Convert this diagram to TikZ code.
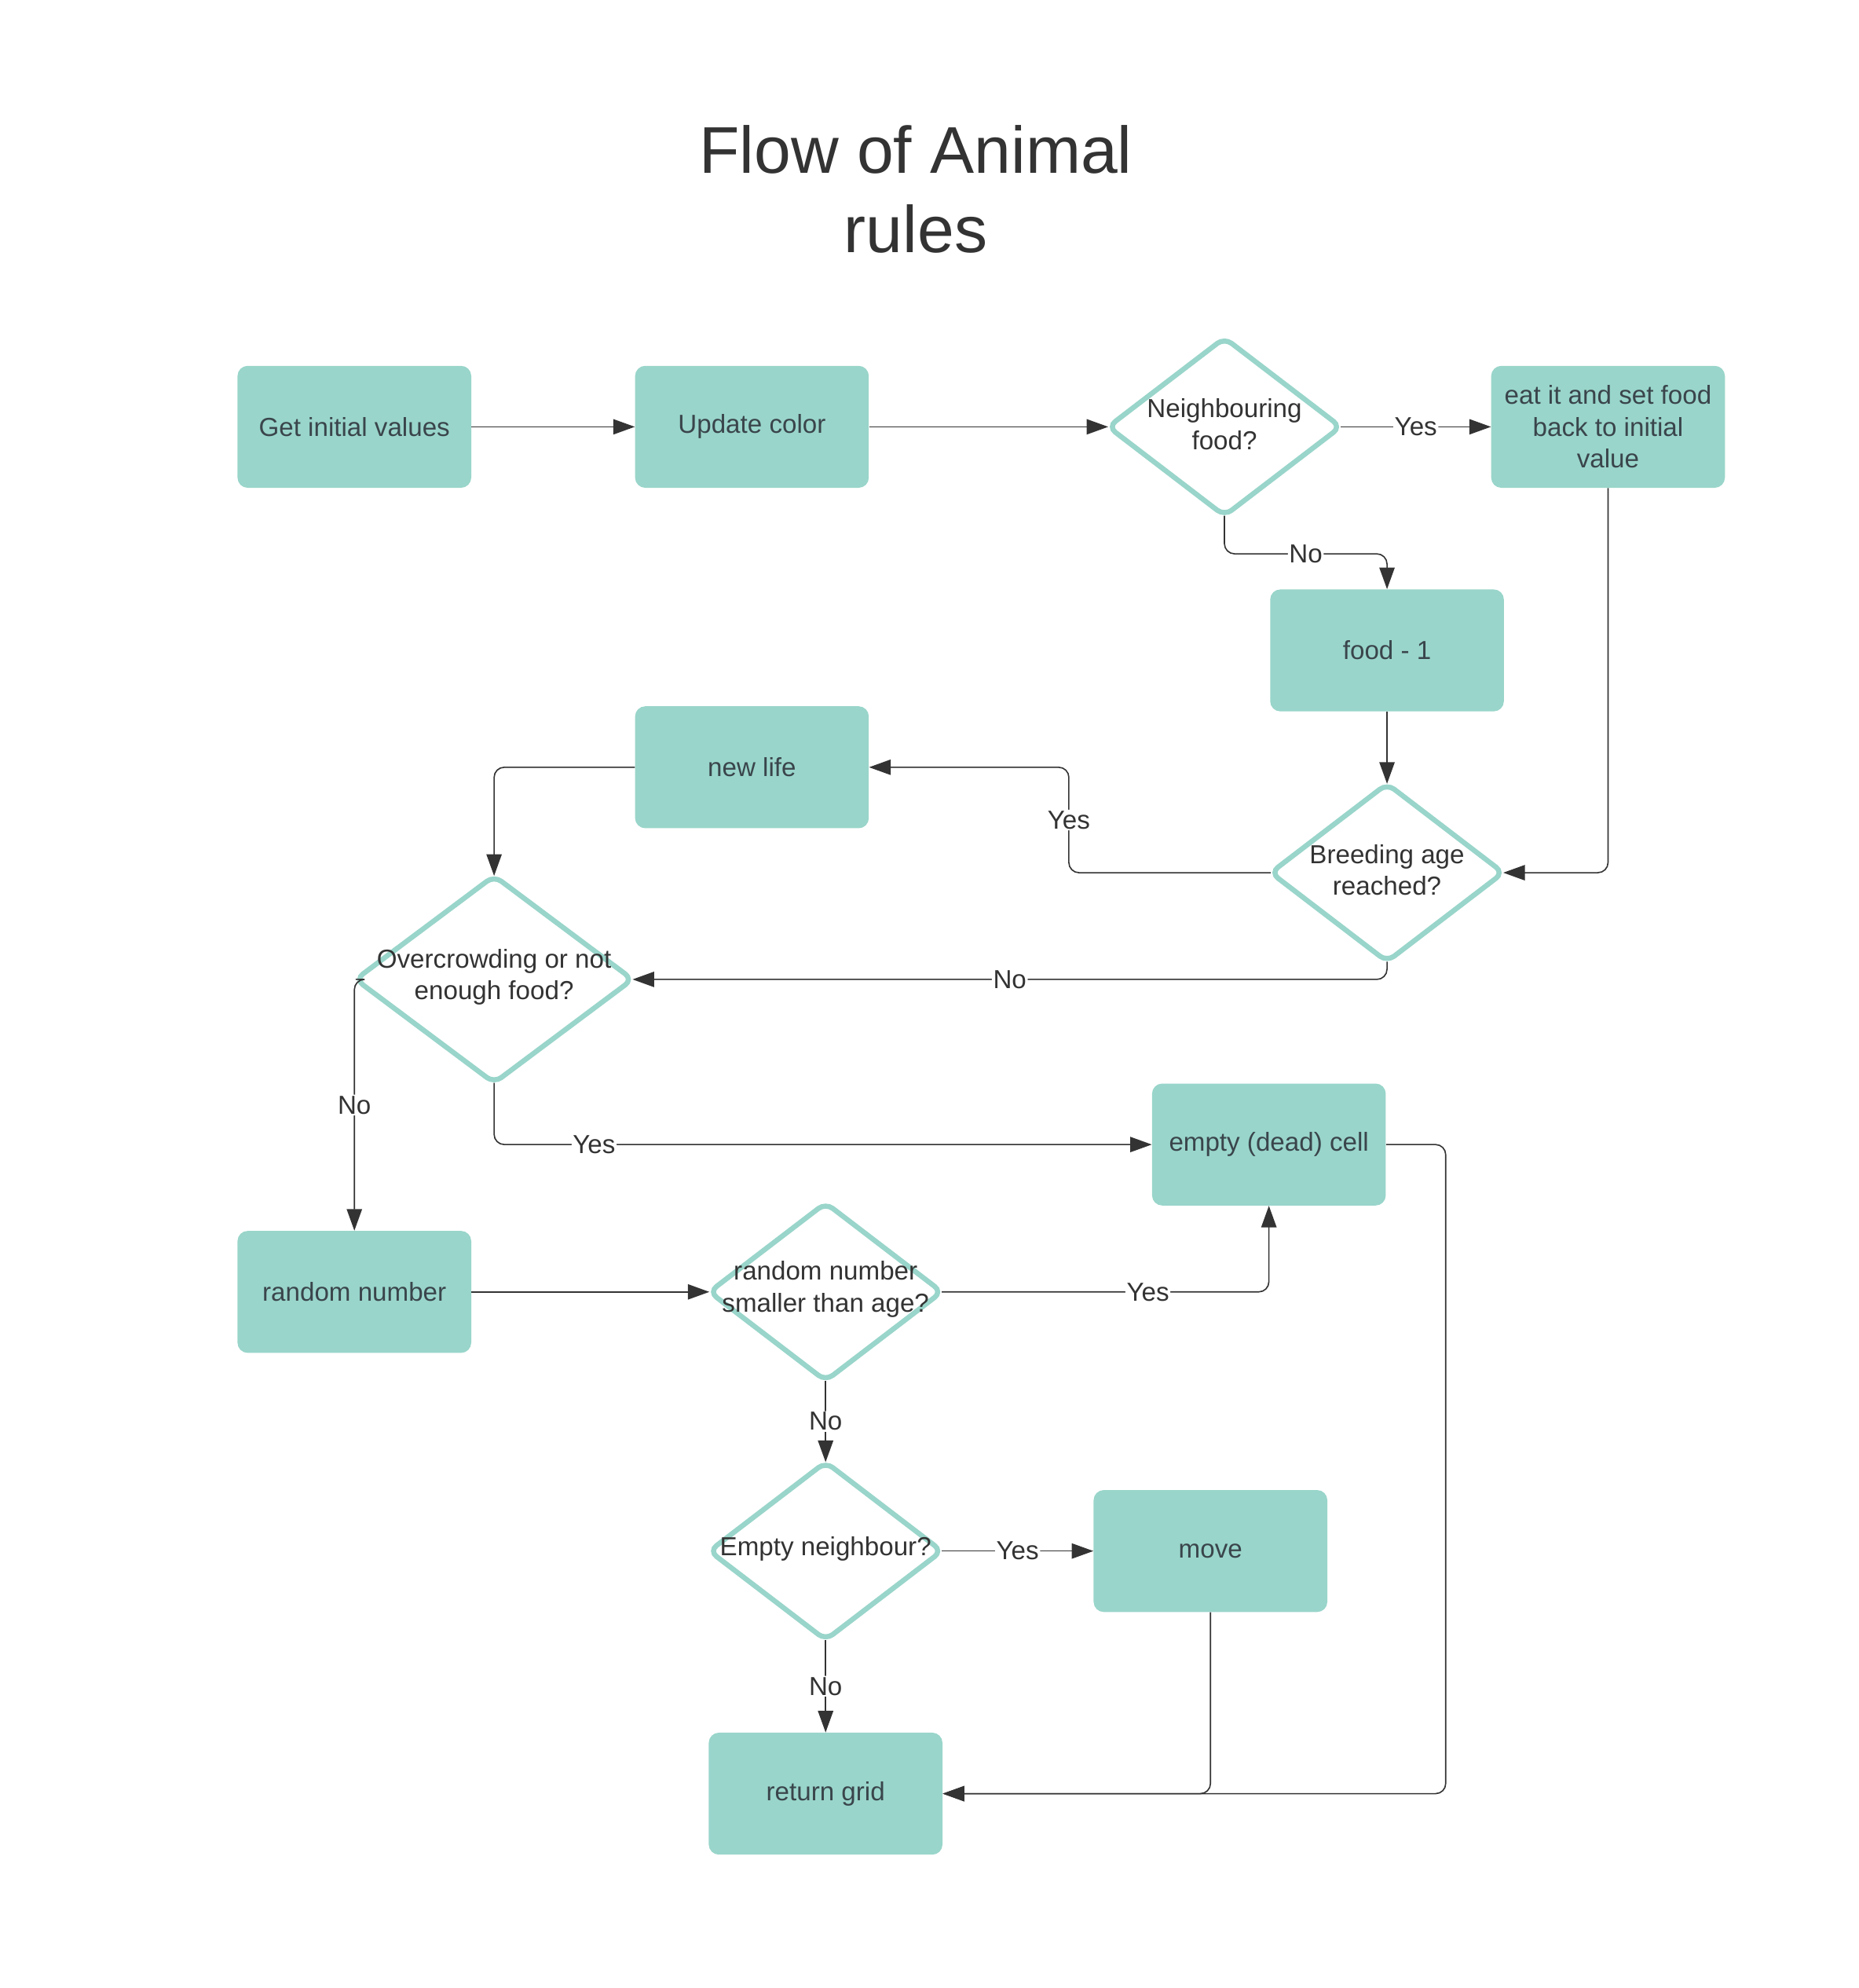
\documentclass[tikz,border=0pt]{standalone}
\usepackage{fontspec}
\setmainfont{Liberation Sans}
\usepackage{xcolor}
\usetikzlibrary{shapes.geometric, arrows.meta}

\definecolor{boxfill}{HTML}{99D5CA}
\definecolor{boxtext}{HTML}{3A454B}
\definecolor{linec}{HTML}{333333}

\tikzset{
	box/.style={rectangle, rounded corners=8pt, fill=boxfill, text=boxtext,
		minimum width=184pt, minimum height=96pt, align=center,
		font=\fontsize{20.5}{25}\selectfont},
	decision/.style={diamond, draw=boxfill, line width=4pt, rounded corners=7pt,
		fill=white, inner sep=0pt, outer sep=0pt, minimum width=183pt, minimum height=140pt},
	dtext/.style={text=linec, align=center, yshift=2pt, font=\fontsize{20.5}{25}\selectfont},
	flow/.style={draw=linec, line width=1pt, rounded corners=8pt,
		-{Triangle[length=17pt, width=12pt]}},
	lbl/.style={fill=white, inner sep=1pt, text=linec,
		font=\fontsize{20.5}{25}\selectfont}
}

\begin{document}
\begin{tikzpicture}[x=1pt, y=-1pt]
		\useasboundingbox (0,0) rectangle (1463,1565);
		
		\node [text=linec, align=center, font=\fontsize{52}{62}\selectfont] (title) at (721,149) {Flow of Animal\\rules};
		
		% boxes
		\node [box] (init) at (279,336) {Get initial values};
		\node [box] (upd) at (592,336) {Update color};
		\node [box] (eat) at (1266,336) {eat it and set food\\back to initial\\value};
		\node [box] (food) at (1092,512) {food - 1};
		\node [box] (newlife) at (592,604) {new life};
		\node [box] (dead) at (999,901) {empty (dead) cell};
		\node [box] (randnum) at (279,1017) {random number};
		\node [box] (move) at (953,1221) {move};
		\node [box] (ret) at (650,1412) {return grid};
		
		% decisions
		\node [decision] (nfood) at (964,336) {};
			\node [dtext] (nfoodtxt) at (nfood) {Neighbouring\\food?};
		\node [decision] (breed) at (1092,687) {};
			\node [dtext] (breedtxt) at (breed) {Breeding age\\reached?};
		\node [decision, minimum width=218pt, minimum height=163pt] (over) at (389,771) {};
			\node [dtext] (overtxt) at (over) {Overcrowding or not\\enough food?};
		\node [decision] (rnsmall) at (650,1017) {};
			\node [dtext] (rnsmalltxt) at (rnsmall) {random number\\smaller than age?};
		\node [decision] (emptyn) at (650,1221) {};
			\node [dtext] (emptyntxt) at (emptyn) {Empty neighbour?};
		
		% connectors
		\draw [flow] (init.east) -- (upd.west);
		\draw [flow] (upd.east) -- (nfood.west);
		\draw [flow] (nfood.east) -- node [lbl] {Yes} (eat.west);
		\draw [flow] (nfood.south) -- ++(0,30) -| node [lbl, pos=0.25] {No} (food.north);
		\draw [flow] (eat.south) |- (breed.east);
		\draw [flow] (food.south) -- (breed.north);
		\draw [flow] (breed.west) -- ++(-159,0) |- node [lbl, pos=0.25] {Yes} (newlife.east);
		\draw [flow] (newlife.west) -| (over.north);
		\draw [flow] (breed.south) |- node [lbl, pos=0.75] {No} (over.east);
		\draw [flow] (over.west) -| node [lbl, pos=0.75] {No} (randnum.north);
		\draw [flow] (over.south) |- node [lbl, pos=0.576] {Yes} (dead.west);
		\draw [flow] (randnum.east) -- (rnsmall.west);
		\draw [flow] (rnsmall.east) -| node [lbl, pos=0.315] {Yes} (dead.south);
		\draw [flow] (rnsmall.south) -- node [lbl] {No} (emptyn.north);
		\draw [flow] (emptyn.east) -- node [lbl] {Yes} (move.west);
		\draw [flow] (emptyn.south) -- node [lbl] {No} (ret.north);
		\draw [flow] (move.south) |- (ret.east);
		\draw [flow] (dead.east) -- ++(47,0) |- (ret.east);
	\end{tikzpicture}
\end{document}
